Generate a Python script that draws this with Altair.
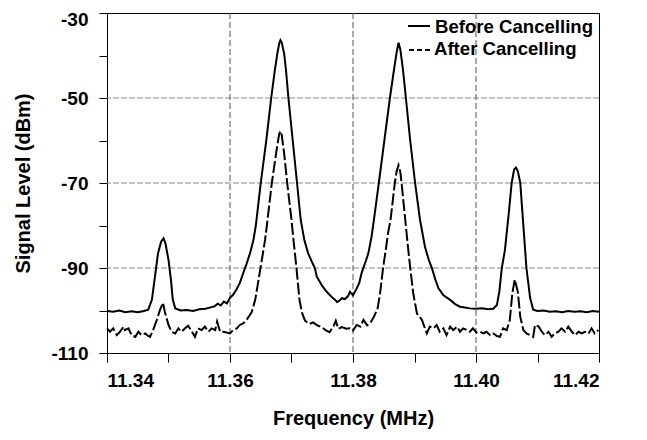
import altair as alt
import pandas as pd

# ---------------- data ----------------
freq_before = [
    11.3400, 11.3410, 11.3420, 11.3430, 11.3440, 11.3450, 11.3460, 11.3467, 11.3473, 11.3478,
    11.3483, 11.3488, 11.3492, 11.3495, 11.3500, 11.3504, 11.3507, 11.3511, 11.3520, 11.3530,
    11.3540, 11.3550, 11.3560, 11.3570, 11.3575, 11.3580, 11.3585, 11.3590, 11.3595, 11.3600,
    11.3605, 11.3610, 11.3616, 11.3622, 11.3627, 11.3633, 11.3638, 11.3642, 11.3650, 11.3659,
    11.3667, 11.3673, 11.3677, 11.3680, 11.3682, 11.3684, 11.3688, 11.3691, 11.3695, 11.3702,
    11.3709, 11.3715, 11.3721, 11.3727, 11.3733, 11.3738, 11.3741, 11.3745, 11.3749, 11.3755,
    11.3760, 11.3766, 11.3771, 11.3774, 11.3777, 11.3782, 11.3787, 11.3792, 11.3795, 11.3800,
    11.3806, 11.3810, 11.3814, 11.3817, 11.3821, 11.3825, 11.3830, 11.3834, 11.3842, 11.3851,
    11.3860, 11.3867, 11.3871, 11.3874, 11.3877, 11.3881, 11.3886, 11.3893, 11.3901, 11.3909,
    11.3917, 11.3923, 11.3928, 11.3934, 11.3939, 11.3947, 11.3958, 11.3966, 11.3974, 11.3982,
    11.3990, 11.4000, 11.4010, 11.4020, 11.4028, 11.4034, 11.4038, 11.4042, 11.4047, 11.4053,
    11.4058, 11.4062, 11.4065, 11.4068, 11.4072, 11.4077, 11.4082, 11.4088, 11.4093, 11.4100,
    11.4110, 11.4120, 11.4130, 11.4140, 11.4150, 11.4160, 11.4170, 11.4180, 11.4190, 11.4200,
]
level_before = [
    -100.1, -100.3, -100.0, -100.4, -100.2, -100.4, -100.1, -99.8, -97.5, -92.0,
    -86.5, -83.8, -83.0, -84.2, -88.1, -92.8, -97.5, -99.5, -100.0, -99.9,
    -100.1, -99.7, -99.6, -99.2, -99.0, -98.4, -98.8, -97.9, -98.3, -97.0,
    -96.3, -95.2, -93.5, -91.0, -89.0, -86.3, -83.5, -80.0, -70.0, -60.0,
    -50.0, -43.4, -39.5, -37.2, -36.4, -36.9, -39.5, -43.4, -50.0, -60.0,
    -70.0, -78.7, -83.5, -86.5, -88.5, -90.0, -92.0, -93.0, -94.0, -95.2,
    -96.0, -96.9, -97.5, -98.0, -97.8, -97.1, -97.3, -96.6, -95.6, -96.4,
    -94.8, -93.6, -91.2, -89.9, -88.3, -86.5, -82.8, -78.7, -70.0, -60.0,
    -50.0, -43.0, -39.2, -37.0, -38.6, -43.0, -50.0, -60.0, -70.0, -78.7,
    -85.0, -88.0, -89.9, -92.8, -94.8, -96.4, -97.5, -98.5, -99.1, -99.3,
    -99.5, -99.6, -99.5, -99.7, -99.6, -98.7, -95.5, -90.0, -85.8, -77.5,
    -70.0, -66.8, -66.4, -67.2, -70.0, -80.0, -90.0, -97.0, -99.8, -100.1,
    -100.0, -100.3, -100.2, -100.4, -100.1, -100.3, -100.2, -100.4, -100.1, -100.3,
]

freq_after = [
    11.3400, 11.3405, 11.3410, 11.3416, 11.3421, 11.3427, 11.3429, 11.3435, 11.3440, 11.3446,
    11.3451, 11.3456, 11.3462, 11.3467, 11.3470, 11.3475, 11.3481, 11.3486, 11.3491, 11.3494,
    11.3500, 11.3505, 11.3511, 11.3516, 11.3521, 11.3527, 11.3532, 11.3538, 11.3543, 11.3548,
    11.3554, 11.3559, 11.3565, 11.3570, 11.3576, 11.3579, 11.3584, 11.3589, 11.3595, 11.3600,
    11.3605, 11.3611, 11.3616, 11.3622, 11.3627, 11.3635, 11.3641, 11.3645, 11.3649, 11.3653,
    11.3657, 11.3661, 11.3668, 11.3673, 11.3677, 11.3680, 11.3682, 11.3684, 11.3688, 11.3693,
    11.3700, 11.3704, 11.3708, 11.3713, 11.3717, 11.3722, 11.3729, 11.3735, 11.3742, 11.3749,
    11.3756, 11.3762, 11.3769, 11.3772, 11.3776, 11.3782, 11.3789, 11.3795, 11.3800, 11.3806,
    11.3812, 11.3817, 11.3823, 11.3828, 11.3834, 11.3840, 11.3844, 11.3849, 11.3853, 11.3857,
    11.3861, 11.3868, 11.3871, 11.3874, 11.3877, 11.3879, 11.3885, 11.3889, 11.3893, 11.3898,
    11.3904, 11.3912, 11.3920, 11.3925, 11.3931, 11.3936, 11.3941, 11.3947, 11.3952, 11.3958,
    11.3963, 11.3969, 11.3974, 11.3979, 11.3985, 11.3990, 11.3995, 11.4001, 11.4007, 11.4012,
    11.4017, 11.4023, 11.4028, 11.4034, 11.4039, 11.4044, 11.4050, 11.4055, 11.4059, 11.4063,
    11.4068, 11.4072, 11.4077, 11.4082, 11.4088, 11.4093, 11.4096, 11.4102, 11.4107, 11.4112,
    11.4118, 11.4123, 11.4128, 11.4134, 11.4139, 11.4145, 11.4150, 11.4156, 11.4161, 11.4167,
    11.4172, 11.4177, 11.4183, 11.4188, 11.4193, 11.4199,
]
level_after = [
    -104.2, -105.0, -104.2, -105.8, -105.0, -103.8, -104.6, -104.2, -105.8, -106.2,
    -105.0, -105.8, -105.4, -106.0, -106.2, -104.6, -102.2, -99.9, -98.2, -100.3,
    -103.4, -105.0, -105.4, -104.2, -105.0, -104.2, -103.6, -105.0, -106.2, -104.2,
    -104.6, -103.8, -105.0, -104.2, -104.6, -102.6, -105.0, -105.0, -105.2, -105.4,
    -104.6, -104.2, -103.4, -103.0, -102.2, -100.5, -97.5, -94.0, -90.5, -87.0,
    -83.4, -78.7, -70.0, -65.0, -61.0, -58.5, -57.8, -58.6, -63.0, -70.0,
    -78.7, -84.5, -89.9, -97.5, -100.5, -102.4, -103.2, -102.8, -103.5, -103.9,
    -104.7, -105.1, -103.5, -102.4, -104.3, -103.9, -104.3, -104.2, -104.7, -103.4,
    -103.8, -102.2, -103.5, -103.0, -101.5, -99.5, -96.0, -89.9, -86.0, -81.8,
    -78.7, -70.0, -67.2, -65.8, -67.5, -70.0, -78.7, -84.5, -89.9, -96.0,
    -100.7, -102.2, -105.4, -103.8, -104.2, -103.4, -105.0, -104.2, -105.8, -103.8,
    -104.6, -103.8, -105.0, -104.2, -104.6, -105.0, -104.2, -105.2, -105.0, -105.4,
    -105.0, -105.8, -105.4, -106.0, -106.2, -104.2, -104.6, -102.2, -96.0, -92.7,
    -95.6, -101.5, -104.6, -105.4, -105.8, -106.2, -103.4, -103.8, -105.0, -105.8,
    -105.0, -106.2, -105.4, -105.0, -104.2, -105.0, -103.8, -105.0, -105.8, -105.0,
    -105.4, -105.0, -105.4, -104.2, -105.4, -104.6,
]

x_ticks = [11.34, 11.35, 11.36, 11.37, 11.38, 11.39, 11.40, 11.41, 11.42]
y_ticks = [-110, -100, -90, -80, -70, -60, -50, -40, -30]
x_grid = [11.36, 11.38, 11.40]
y_grid = [-90, -70, -50]
legend_labels = ["Before Cancelling", "After Cancelling"]

# ---------------- chart ----------------
FONT = "Liberation Sans"
df_before = pd.DataFrame({"freq": freq_before, "level": level_before})
df_after = pd.DataFrame({"freq": freq_after, "level": level_after})

xscale = alt.Scale(domain=[11.34, 11.42], nice=False, zero=False)
yscale = alt.Scale(domain=[-110, -30], nice=False, zero=False)

xaxis = alt.Axis(
    values=x_ticks,
    labelExpr="round((datum.value - 11.34) * 100) % 2 == 0 ? format(datum.value, '.2f') : ''",
    grid=False, tickSize=9, tickColor="black", tickWidth=1,
    domainColor="black", domainWidth=1,
    labelFont=FONT, labelFontSize=19, labelFontWeight="bold", labelColor="black",
    labelPadding=9, labelOverlap=False, labelBaseline="top",
    title="Frequency (MHz)", titleFont=FONT, titleFontSize=20, titleFontWeight="bold",
    titleColor="black", titleX=246, titleY=65, titleAlign="center", titleBaseline="middle",
)
yaxis = alt.Axis(
    values=y_ticks,
    labelExpr="abs(datum.value % 20) == 10 ? ('' + datum.value) : ''",
    labelOffset=alt.condition("datum.value == -30", alt.value(6), alt.value(0)),
    grid=False, tickSize=8, tickColor="black", tickWidth=1,
    domainColor="black", domainWidth=1,
    labelFont=FONT, labelFontSize=19, labelFontWeight="bold", labelColor="black",
    labelPadding=11, labelOverlap=False,
    title="Signal Level (dBm)", titleFont=FONT, titleFontSize=20, titleFontWeight="bold",
    titleColor="black", titleX=-84, titleY=170, titleAngle=270,
    titleAlign="center", titleBaseline="middle",
)

vgrid = alt.Chart(pd.DataFrame({"freq": x_grid})).mark_rule(
    color="#555555", strokeWidth=1, strokeDash=[6, 3]
).encode(x=alt.X("freq:Q", scale=xscale))
hgrid = alt.Chart(pd.DataFrame({"level": y_grid})).mark_rule(
    color="#8a8a8a", strokeWidth=1, strokeDash=[6, 2]
).encode(y=alt.Y("level:Q", scale=yscale))

before = alt.Chart(df_before).mark_line(color="black", strokeWidth=2).encode(
    x=alt.X("freq:Q", scale=xscale, axis=xaxis),
    y=alt.Y("level:Q", scale=yscale, axis=yaxis),
)
after = alt.Chart(df_after).mark_line(color="black", strokeWidth=2, strokeDash=[12, 3]).encode(
    x=alt.X("freq:Q", scale=xscale),
    y=alt.Y("level:Q", scale=yscale),
)

leg_solid = alt.Chart(pd.DataFrame({"k": [0]})).mark_rule(color="black", strokeWidth=2).encode(
    x=alt.value(301), x2=alt.value(323), y=alt.value(13)
)
leg_dash = alt.Chart(pd.DataFrame({"k": [0]})).mark_rule(
    color="black", strokeWidth=2, strokeDash=[5, 3]
).encode(x=alt.value(302), x2=alt.value(323), y=alt.value(37))
leg_text1 = alt.Chart(pd.DataFrame({"k": [0]})).mark_text(
    font=FONT, fontSize=18.6, fontWeight="bold", color="black", align="left", baseline="alphabetic"
).encode(x=alt.value(328), y=alt.value(19.5), text=alt.value(legend_labels[0]))
leg_text2 = alt.Chart(pd.DataFrame({"k": [0]})).mark_text(
    font=FONT, fontSize=18.6, fontWeight="bold", color="black", align="left", baseline="alphabetic"
).encode(x=alt.value(327), y=alt.value(42), text=alt.value(legend_labels[1]))

chart = alt.layer(
    hgrid, vgrid, before, after, leg_solid, leg_dash, leg_text1, leg_text2
).properties(
    width=492, height=340,
    autosize=alt.AutoSizeParams(type="none"),
    padding={"left": 99, "top": 5, "right": 40, "bottom": 79},
    background="white",
).configure_view(stroke="black", strokeWidth=1)

chart.save("out.html", embed_options={"renderer": "svg", "actions": False})
